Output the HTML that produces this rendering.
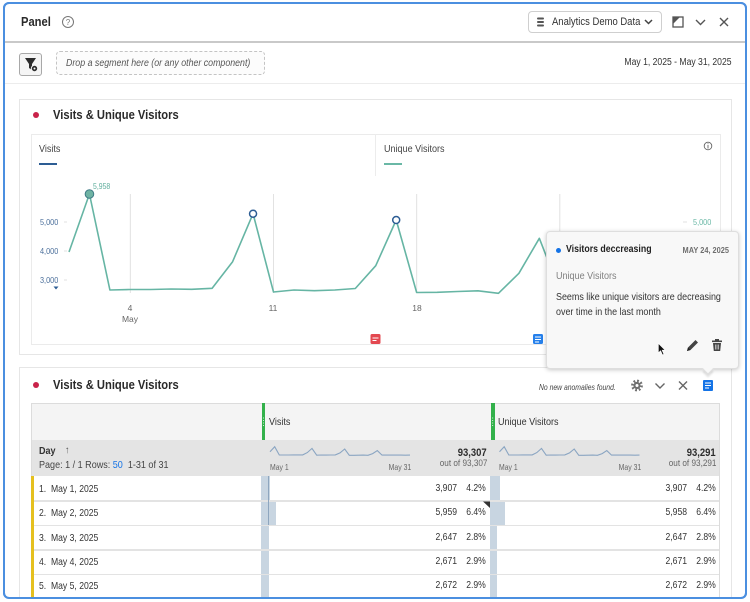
<!DOCTYPE html>
<html><head><meta charset="utf-8">
<style>
*{margin:0;padding:0;box-sizing:border-box}
html,body{width:750px;height:602px;overflow:hidden;background:#fff;font-family:"Liberation Sans",sans-serif;color:#2c2c2c}
.a{position:absolute}
.t{position:absolute;white-space:nowrap;line-height:14px;transform:scaleX(.86);transform-origin:0 0}
.r{position:absolute;white-space:nowrap;line-height:14px;transform:scaleX(.86);transform-origin:100% 0;text-align:right}
.c{position:absolute;white-space:nowrap;line-height:14px;text-align:center;width:40px}
.b{font-weight:bold}
</style></head><body>

<!-- panel frame -->
<div class="a" style="left:3px;top:2px;width:744px;height:597px;border:2px solid #4b8fe0;border-radius:6px;background:#fff"></div>
<div class="a" style="left:5px;top:41px;width:740px;height:1.5px;background:#c9c9c9"></div>
<div class="a" style="left:5px;top:83px;width:740px;height:1px;background:#ececec"></div>

<!-- header -->
<div class="t b" style="left:21px;top:15px;font-size:13px;color:#2a2a2a">Panel</div>
<div class="a" style="left:528px;top:11px;width:134px;height:22px;border:1px solid #cfcfcf;border-radius:4px;background:#fff"></div>
<div class="t" style="left:552px;top:15px;font-size:11px;color:#333">Analytics Demo Data</div>

<!-- segment row -->
<div class="a" style="left:19px;top:53px;width:23px;height:23px;border:1px solid #a8a8a8;border-radius:3px;background:#f5f5f5"></div>
<div class="a" style="left:56px;top:51px;width:209px;height:24px;border:1px dashed #c4c4c4;border-radius:4px;background:#fcfcfc"></div>
<div class="t" style="left:66px;top:56px;font-size:10.5px;font-style:italic;color:#555;transform:scaleX(.84)">Drop a segment here (or any other component)</div>
<div class="r" style="right:18px;top:56px;font-size:10px;color:#333">May 1, 2025 - May 31, 2025</div>

<!-- card 1 -->
<div class="a" style="left:19px;top:99px;width:713px;height:256px;border:1px solid #e6e6e6;background:#fff"></div>
<div class="a" style="left:33px;top:112px;width:6px;height:6px;border-radius:50%;background:#c9234a"></div>
<div class="t b" style="left:53px;top:108px;font-size:13px;color:#2a2a2a">Visits &amp; Unique Visitors</div>
<div class="a" style="left:31px;top:134px;width:690px;height:211px;border:1px solid #ebebeb"></div>
<div class="a" style="left:375px;top:134px;width:1px;height:42px;background:#ececec"></div>
<div class="t" style="left:39px;top:142px;font-size:10.5px;color:#444">Visits</div>
<div class="a" style="left:39px;top:163px;width:18px;height:2px;background:#2d5d94"></div>
<div class="t" style="left:384px;top:142px;font-size:10.5px;color:#444">Unique Visitors</div>
<div class="a" style="left:384px;top:163px;width:18px;height:2px;background:#6ab8a6"></div>

<!-- axis labels -->
<div class="r" style="right:692px;top:215px;font-size:8.5px;color:#4b6f9b">5,000</div>
<div class="r" style="right:692px;top:244px;font-size:8.5px;color:#4b6f9b">4,000</div>
<div class="r" style="right:692px;top:273px;font-size:8.5px;color:#4b6f9b">3,000</div>
<div class="t" style="left:693px;top:215px;font-size:8.5px;color:#6ab8a6">5,000</div>
<div class="t" style="left:93px;top:180px;font-size:8px;color:#5fae9d">5,958</div>
<div class="c" style="left:110px;top:301px;font-size:8.5px;color:#666">4</div>
<div class="c" style="left:110px;top:312px;font-size:8.5px;color:#666">May</div>
<div class="c" style="left:253px;top:301px;font-size:8.5px;color:#666">11</div>
<div class="c" style="left:397px;top:301px;font-size:8.5px;color:#666">18</div>

<!-- card 2 -->
<div class="a" style="left:19px;top:367px;width:713px;height:233px;border:1px solid #e6e6e6;border-bottom:none;background:#fff"></div>
<div class="a" style="left:33px;top:382px;width:6px;height:6px;border-radius:50%;background:#c9234a"></div>
<div class="t b" style="left:53px;top:378px;font-size:13px;color:#2a2a2a">Visits &amp; Unique Visitors</div>
<div class="t" style="left:539px;top:380px;font-size:8.5px;font-style:italic;color:#444;transform:scaleX(.8)">No new anomalies found.</div>

<!-- table -->
<div class="a" style="left:31px;top:403px;width:689px;height:197px;border:1px solid #dcdcdc;border-bottom:none;background:#fff"></div>
<div class="a" style="left:32px;top:404px;width:687px;height:36px;background:#f4f4f4"></div>
<div class="a" style="left:32px;top:440px;width:687px;height:36px;background:#e4e4e4"></div>
<div class="a" style="left:262px;top:403px;width:3px;height:37px;background:#33b14b"></div>
<div class="a" style="left:491px;top:403px;width:3.5px;height:37px;background:#33b14b"></div>
<div class="t" style="left:269px;top:415px;font-size:10.5px;color:#333">Visits</div>
<div class="t" style="left:498px;top:415px;font-size:10.5px;color:#333">Unique Visitors</div>
<div class="t b" style="left:39px;top:444px;font-size:10.5px;color:#333">Day</div>
<div class="t" style="left:65px;top:444px;font-size:10px;color:#555">&#8593;</div>
<div class="t" style="left:39px;top:458px;font-size:10.5px;color:#444">Page: 1 / 1 Rows: <span style="color:#1473e6">50</span>&nbsp; 1-31 of 31</div>
<div class="t" style="left:270px;top:461px;font-size:8px;color:#666">May 1</div>
<div class="r" style="right:339px;top:461px;font-size:8px;color:#666">May 31</div>
<div class="r b" style="right:263px;top:446px;font-size:11px;color:#2c2c2c">93,307</div>
<div class="r" style="right:263px;top:457px;font-size:9.5px;color:#666">out of 93,307</div>
<div class="t" style="left:499px;top:461px;font-size:8px;color:#666">May 1</div>
<div class="r" style="right:109px;top:461px;font-size:8px;color:#666">May 31</div>
<div class="r b" style="right:34px;top:446px;font-size:11px;color:#2c2c2c">93,291</div>
<div class="r" style="right:34px;top:457px;font-size:9.5px;color:#666">out of 93,291</div>

<!-- rows -->
<div class="a" style="left:32px;top:500px;width:687px;height:1.5px;background:#e3e3e3"></div>
<div class="a" style="left:32px;top:524.5px;width:687px;height:1.5px;background:#e3e3e3"></div>
<div class="a" style="left:32px;top:549px;width:687px;height:1.5px;background:#e3e3e3"></div>
<div class="a" style="left:32px;top:573.5px;width:687px;height:1.5px;background:#e3e3e3"></div>
<div class="a" style="left:31px;top:476px;width:2.5px;height:123px;background:#e5c01f"></div>
<!-- bars visits -->
<div class="a" style="left:261px;top:476px;width:9px;height:24px;background:#c8d5e1"></div>
<div class="a" style="left:261px;top:501.5px;width:15px;height:23px;background:#c8d5e1"></div>
<div class="a" style="left:261px;top:526px;width:8px;height:23px;background:#c8d5e1"></div>
<div class="a" style="left:261px;top:550.5px;width:8px;height:23px;background:#c8d5e1"></div>
<div class="a" style="left:261px;top:575px;width:8px;height:23px;background:#c8d5e1"></div>
<div class="a" style="left:268px;top:476px;width:1.3px;height:49px;background:#8ea6bf"></div>
<!-- bars uv -->
<div class="a" style="left:490px;top:476px;width:10px;height:24px;background:#c8d5e1"></div>
<div class="a" style="left:490px;top:501.5px;width:15px;height:23px;background:#c8d5e1"></div>
<div class="a" style="left:490px;top:526px;width:7px;height:23px;background:#c8d5e1"></div>
<div class="a" style="left:490px;top:550.5px;width:7px;height:23px;background:#c8d5e1"></div>
<div class="a" style="left:490px;top:575px;width:7px;height:23px;background:#c8d5e1"></div>

<div class="t" style="left:39px;top:482px;font-size:10.5px;color:#333;transform:scaleX(.82)">1.&nbsp; May 1, 2025</div>
<div class="t" style="left:39px;top:506px;font-size:10.5px;color:#333;transform:scaleX(.82)">2.&nbsp; May 2, 2025</div>
<div class="t" style="left:39px;top:531px;font-size:10.5px;color:#333;transform:scaleX(.82)">3.&nbsp; May 3, 2025</div>
<div class="t" style="left:39px;top:555px;font-size:10.5px;color:#333;transform:scaleX(.82)">4.&nbsp; May 4, 2025</div>
<div class="t" style="left:39px;top:579px;font-size:10.5px;color:#333;transform:scaleX(.82)">5.&nbsp; May 5, 2025</div>

<div class="r" style="right:293px;top:482px;font-size:10px;color:#333">3,907</div>
<div class="r" style="right:264px;top:482px;font-size:10px;color:#333">4.2%</div>
<div class="r" style="right:293px;top:506px;font-size:10px;color:#333">5,959</div>
<div class="r" style="right:264px;top:506px;font-size:10px;color:#333">6.4%</div>
<div class="r" style="right:293px;top:531px;font-size:10px;color:#333">2,647</div>
<div class="r" style="right:264px;top:531px;font-size:10px;color:#333">2.8%</div>
<div class="r" style="right:293px;top:555px;font-size:10px;color:#333">2,671</div>
<div class="r" style="right:264px;top:555px;font-size:10px;color:#333">2.9%</div>
<div class="r" style="right:293px;top:579px;font-size:10px;color:#333">2,672</div>
<div class="r" style="right:264px;top:579px;font-size:10px;color:#333">2.9%</div>

<div class="r" style="right:63px;top:482px;font-size:10px;color:#333">3,907</div>
<div class="r" style="right:34px;top:482px;font-size:10px;color:#333">4.2%</div>
<div class="r" style="right:63px;top:506px;font-size:10px;color:#333">5,958</div>
<div class="r" style="right:34px;top:506px;font-size:10px;color:#333">6.4%</div>
<div class="r" style="right:63px;top:531px;font-size:10px;color:#333">2,647</div>
<div class="r" style="right:34px;top:531px;font-size:10px;color:#333">2.8%</div>
<div class="r" style="right:63px;top:555px;font-size:10px;color:#333">2,671</div>
<div class="r" style="right:34px;top:555px;font-size:10px;color:#333">2.9%</div>
<div class="r" style="right:63px;top:579px;font-size:10px;color:#333">2,672</div>
<div class="r" style="right:34px;top:579px;font-size:10px;color:#333">2.9%</div>

<!-- frame lines re-drawn over card bottoms -->
<div class="a" style="left:0;top:598px;width:750px;height:4px;background:#fff"></div>
<div class="a" style="left:3px;top:2px;width:744px;height:597px;border:2px solid #4b8fe0;border-radius:6px"></div>

<!-- graphics -->
<svg class="a" style="left:0;top:0" width="750" height="602" viewBox="0 0 750 602">
 <!-- header icons -->
 <circle cx="68" cy="22" r="5.5" fill="none" stroke="#777" stroke-width="1"/>
 <text x="68" y="25" font-size="8" text-anchor="middle" fill="#777" font-family="Liberation Sans">?</text>
 <g fill="#555"><rect x="537" y="17.5" width="7" height="2" rx="1"/><rect x="537" y="21" width="7" height="2" rx="1"/><rect x="537" y="24.5" width="7" height="2" rx="1"/></g>
 <polyline points="645,20 648.5,23.5 652,20" fill="none" stroke="#444" stroke-width="1.5"/>
 <rect x="673" y="17" width="10" height="10" fill="none" stroke="#555" stroke-width="1.3"/>
 <polygon points="673,17 680,17 673,24" fill="#555"/>
 <polyline points="696,20 700.5,24.5 705,20" fill="none" stroke="#555" stroke-width="1.4"/>
 <path d="M720,18 L728,26 M728,18 L720,26" stroke="#555" stroke-width="1.4"/>
 <!-- filter icon -->
 <polygon points="25,58 36,58 32,64 32,70 29,68 29,64" fill="#2c2c2c"/>
 <circle cx="34.5" cy="68.5" r="3.2" fill="#2c2c2c" stroke="#f5f5f5" stroke-width="1"/>
 <circle cx="34.5" cy="68.5" r="1" fill="#f5f5f5"/>
 <!-- info icon -->
 <circle cx="708" cy="146" r="3.8" fill="none" stroke="#666" stroke-width="0.9"/>
 <line x1="708" y1="145" x2="708" y2="148.5" stroke="#666" stroke-width="0.9"/>
 <circle cx="708" cy="143.7" r="0.5" fill="#666"/>
 <!-- gridlines -->
 <g stroke="#e2e2e2" stroke-width="1">
  <line x1="130.35" y1="194" x2="130.35" y2="293"/>
  <line x1="273.5" y1="194" x2="273.5" y2="293"/>
  <line x1="416.65" y1="194" x2="416.65" y2="293"/>
  <line x1="559.8" y1="194" x2="559.8" y2="293"/>
 </g>
 <g stroke="#d8d8d8" stroke-width="0.8">
  <line x1="64" y1="222" x2="67" y2="222"/><line x1="64" y1="251" x2="67" y2="251"/><line x1="64" y1="280" x2="67" y2="280"/>
  <line x1="683" y1="222" x2="687" y2="222"/>
 </g>
 <polygon points="53.5,286.5 58.5,286.5 56,289.5" fill="#2d5d94"/>
 <!-- series -->
 <polyline fill="none" stroke="#66b5a4" stroke-width="1.6" stroke-linejoin="round" points="69,252 89.45,194 109.9,290 130.35,289.5 150.8,289.5 171.25,289 191.7,289.3 212.15,288.3 232.6,261.7 253.05,213.7 273.5,292 293.95,290 314.4,290.7 334.85,290 355.3,288.5 375.75,265.7 396.2,220 416.65,292.5 437.1,292.3 457.55,291.5 478,290.8 498.45,293.3 518.9,273.3 539.35,238.3 559.8,291 580.25,290 600.7,291"/>
 <circle cx="89.45" cy="194" r="4.3" fill="#6fb3a3" stroke="#3f7b86" stroke-width="1"/>
 <circle cx="253.05" cy="213.7" r="3.5" fill="#fff" stroke="#2d5d94" stroke-width="1.5"/>
 <circle cx="396.2" cy="220" r="3.5" fill="#fff" stroke="#2d5d94" stroke-width="1.5"/>
 <!-- annotation markers -->
 <rect x="370.5" y="334" width="10" height="10" rx="1.5" fill="#e34850"/>
 <path d="M372.5,338 h6 M372.5,340.5 h4" stroke="#fff" stroke-width="1"/>
 <rect x="533" y="334" width="10" height="10" rx="1.5" fill="#2680eb"/>
 <path d="M535,337 h6 M535,339.5 h6 M535,342 h4" stroke="#fff" stroke-width="1"/>
 <!-- card 2 toolbar -->
 <circle cx="637" cy="385.5" r="4.6" fill="none" stroke="#707070" stroke-width="2.6" stroke-dasharray="1.8 1.8"/>
 <circle cx="637" cy="385.5" r="3.6" fill="#707070"/>
 <circle cx="637" cy="385.5" r="1.5" fill="#fff"/>
 <polyline points="655.5,383.5 660,388 664.5,383.5" fill="none" stroke="#666" stroke-width="1.4"/>
 <path d="M679,381.5 L687,389.5 M687,381.5 L679,389.5" stroke="#666" stroke-width="1.4"/>
 <rect x="703" y="380" width="10" height="11" rx="1" fill="#1473e6"/>
 <path d="M705,383 h6 M705,385.5 h6 M705,388 h4" stroke="#fff" stroke-width="1"/>
 <!-- sparklines -->
 <g fill="none" stroke="#8aa5c2" stroke-width="1.1">
  <polyline points="270,451.7 274.7,446.7 279.3,455 284,455 288.7,455 293.3,454.9 298,454.9 302.7,454.9 307.3,452.6 312,448.4 316.7,455.2 321.3,455 326,455.1 330.7,455 335.3,454.9 340,452.9 344.7,449 349.3,455.3 354,455.3 358.7,455.2 363.3,455.1 368,455.3 372.7,453.6 377.3,450.6 382,455.1 386.7,455 391.3,455.1 396,455 400.7,455.1 405.3,455.2 410,455.1"/>
  <polyline transform="translate(229.5,0)" points="270,451.7 274.7,446.7 279.3,455 284,455 288.7,455 293.3,454.9 298,454.9 302.7,454.9 307.3,452.6 312,448.4 316.7,455.2 321.3,455 326,455.1 330.7,455 335.3,454.9 340,452.9 344.7,449 349.3,455.3 354,455.3 358.7,455.2 363.3,455.1 368,455.3 372.7,453.6 377.3,450.6 382,455.1 386.7,455 391.3,455.1 396,455 400.7,455.1 405.3,455.2 410,455.1"/>
 </g>
 <!-- green bar dots -->
 <g fill="#fff"><circle cx="263.5" cy="418" r=".5"/><circle cx="263.5" cy="420.5" r=".5"/><circle cx="263.5" cy="423" r=".5"/><circle cx="263.5" cy="425.5" r=".5"/>
 <circle cx="492.7" cy="418" r=".5"/><circle cx="492.7" cy="420.5" r=".5"/><circle cx="492.7" cy="423" r=".5"/><circle cx="492.7" cy="425.5" r=".5"/></g>
 <!-- corner triangle -->
 <polygon points="483,501.5 490,501.5 490,508" fill="#333"/>
</svg>

<!-- tooltip -->
<div class="a" style="left:546px;top:231px;width:193px;height:138px;background:#f8f8f8;border:1px solid #dedede;border-radius:4px;box-shadow:0 1px 4px rgba(0,0,0,.22)"></div>
<div class="a" style="left:704px;top:365px;width:8px;height:8px;background:#f8f8f8;transform:rotate(45deg);box-shadow:2px 2px 2px rgba(0,0,0,.12);border-right:1px solid #dedede;border-bottom:1px solid #dedede"></div>
<div class="a" style="left:555.5px;top:247.5px;width:5.5px;height:5.5px;border-radius:50%;background:#1473e6"></div>
<div class="t b" style="left:566px;top:243px;font-size:10.2px;color:#222">Visitors deccreasing</div>
<div class="r b" style="right:21px;top:243px;font-size:8.6px;color:#6e6e6e">MAY 24, 2025</div>
<div class="t" style="left:556px;top:269px;font-size:10.5px;color:#808080">Unique Visitors</div>
<div class="t" style="left:556px;top:291px;font-size:10.4px;color:#333">Seems like unique visitors are decreasing</div>
<div class="t" style="left:556px;top:306px;font-size:10.4px;color:#333">over time in the last month</div>
<svg class="a" style="left:0;top:0" width="750" height="602" viewBox="0 0 750 602">
 <path d="M687,351 L688,347.5 L695.5,340 L698,342.5 L690.5,350 Z" fill="#444"/>
 <path d="M687,351 L688,347.5 L690.5,350 Z" fill="#222"/>
 <rect x="712" y="340.5" width="10" height="1.6" fill="#444"/>
 <rect x="715" y="339" width="4" height="2" fill="#444"/>
 <path d="M713,343 h8 l-0.8,8 h-6.4 Z" fill="#444"/>
 <path d="M715.5,344.5 v5 M717,344.5 v5 M718.5,344.5 v5" stroke="#f8f8f8" stroke-width=".6"/>
 <polygon points="658.3,343.3 658.3,353 660.6,350.8 662.5,355 664,354.3 662.2,350.2 665.3,350.2" fill="#111" stroke="#fff" stroke-width=".7"/>
</svg>
</body></html>
